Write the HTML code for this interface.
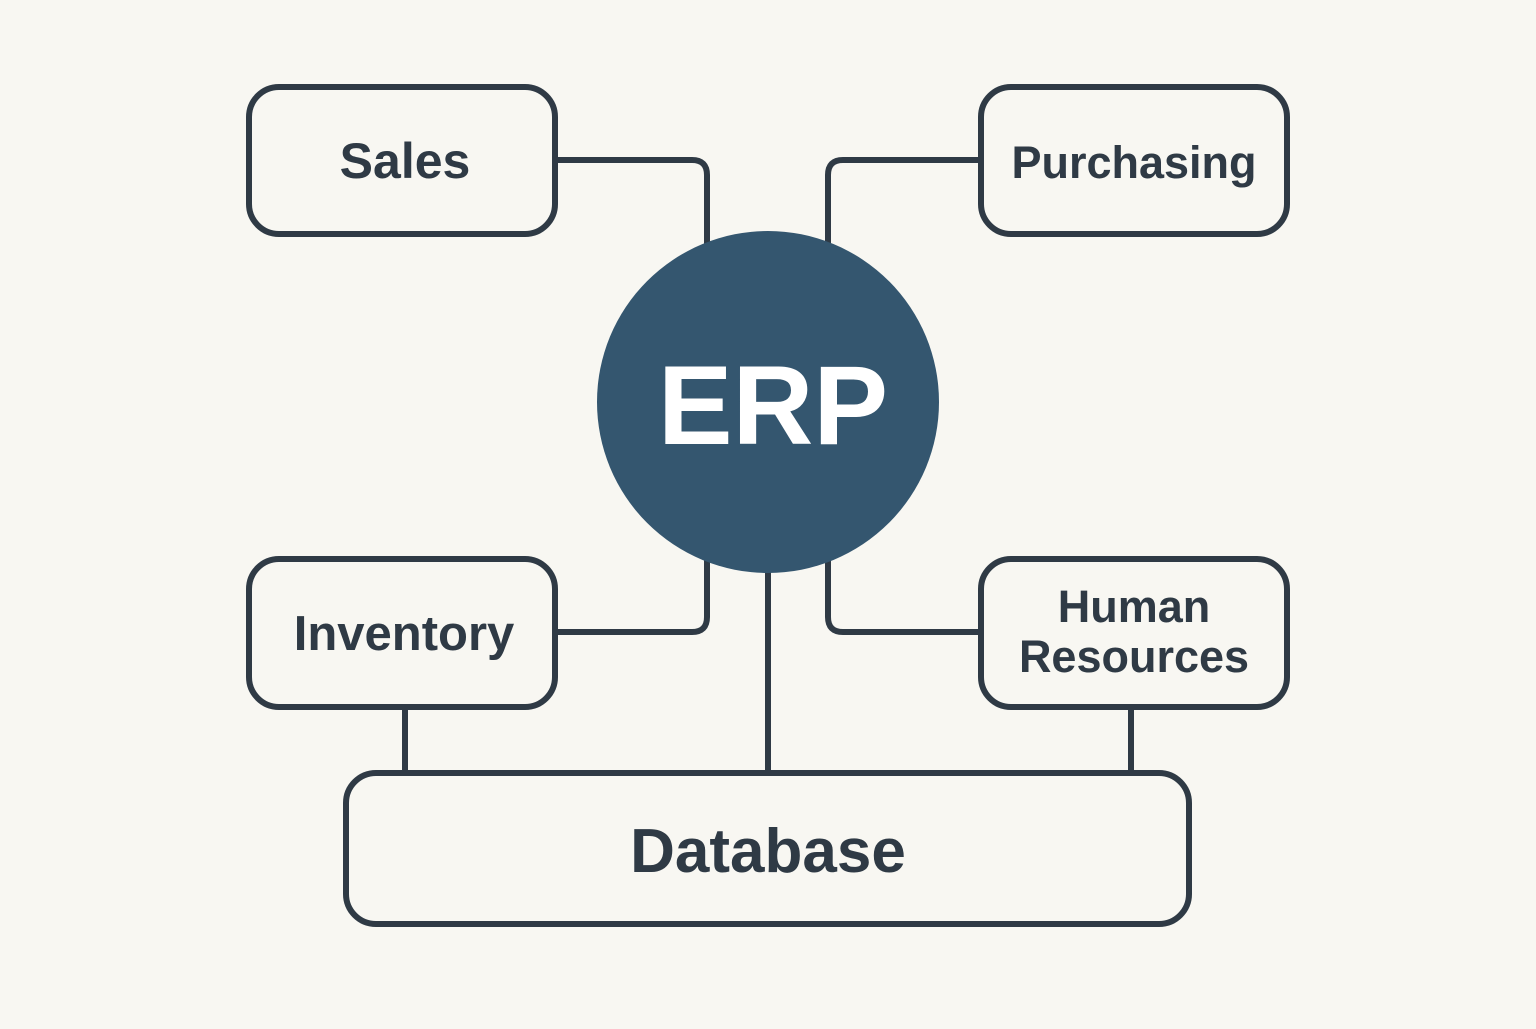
<!DOCTYPE html>
<html><head><style>html,body{margin:0;padding:0;background:#f8f7f2}</style></head><body>
<svg width="1536" height="1024" viewBox="0 0 1536 1024" xmlns="http://www.w3.org/2000/svg">
<rect width="1536" height="1024" fill="#f8f7f2"/>
<g fill="none" stroke="#2f3a45" stroke-width="6" stroke-linejoin="round">
<path d="M556 160 H692 Q707 160 707 175 V250"/>
<path d="M980 160 H843 Q828 160 828 175 V250"/>
<path d="M556 632 H692 Q707 632 707 617 V555"/>
<path d="M980 632 H843 Q828 632 828 617 V555"/>
<path d="M768 560 V775"/>
<path d="M405 708 V775"/>
<path d="M1131 708 V775"/>
<rect x="249" y="87" width="306" height="147" rx="30"/>
<rect x="981" y="87" width="306" height="147" rx="30"/>
<rect x="249" y="559" width="306" height="148" rx="30"/>
<rect x="981" y="559" width="306" height="148" rx="30"/>
<rect x="346" y="773" width="843" height="151" rx="30" fill="#f8f7f2"/>
</g>
<circle cx="768" cy="402" r="171" fill="#34566f"/>
<g font-family="Liberation Sans, sans-serif" font-weight="bold" fill="#2f3a45" text-anchor="middle">
<text x="405" y="178" font-size="50">Sales</text>
<text x="1134" y="178" font-size="45">Purchasing</text>
<text x="404" y="650" font-size="49">Inventory</text>
<text x="1134" y="622" font-size="45">Human</text>
<text x="1134" y="672" font-size="45">Resources</text>
<text x="768" y="872" font-size="62">Database</text>
<text x="773" y="444" font-size="112" fill="#ffffff">ERP</text>
</g>
</svg>
</body></html>
